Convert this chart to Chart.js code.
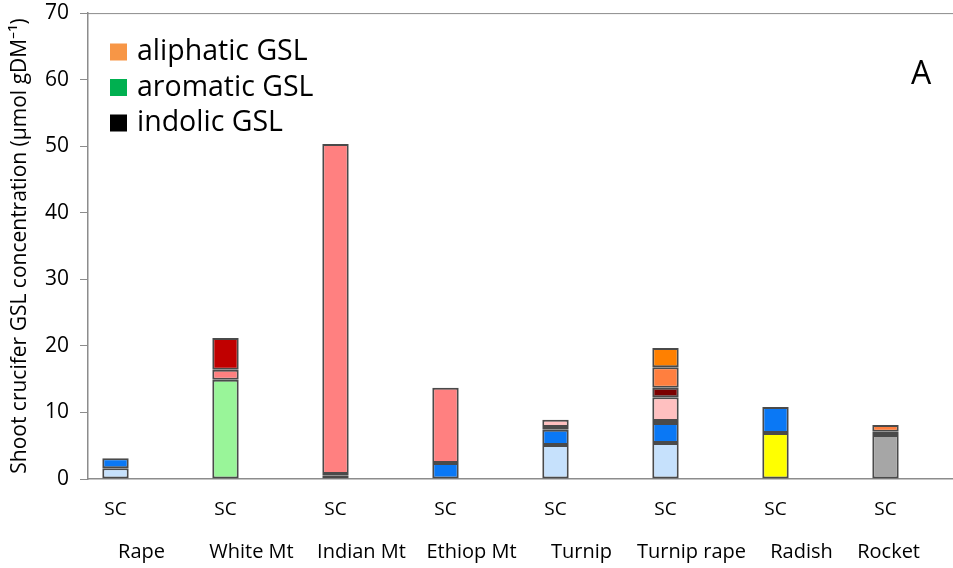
<!DOCTYPE html>
<html lang="en">

<head>
    <meta charset="UTF-8">
    <title>Shoot crucifer GSL</title>
    <script src="https://cdn.jsdelivr.net/npm/chart.js"></script>
    <style>
        html, body { margin: 0; padding: 0; background: #fff; overflow: hidden; }
        #chart { position: absolute; left: 0; top: 0; width: 980px; height: 568px; }
    </style>
</head>

<body>
    <div id="chart"><canvas id="myChart"></canvas></div>
    <script>
        // crops, each measured once under the SC treatment
        const crops = ['Rape', 'White Mt', 'Indian Mt', 'Ethiop Mt', 'Turnip', 'Turnip rape', 'Radish', 'Rocket'];
        const treatment = 'SC';
        const yTicks = [0, 10, 20, 30, 40, 50, 60, 70];

        // stacked segments, bottom to top (µmol gDM-1)
        const green     = [0, 14.9, 0, 0, 0, 0, 0, 0];
        const yellow    = [0, 0, 0, 0, 0, 0, 6.9, 0];
        const grey      = [0, 0, 0, 0, 0, 0, 0, 6.6];
        const lightBlue = [1.6, 0, 0.5, 0, 5.1, 5.4, 0, 0];
        const blue      = [1.5, 0, 0, 2.4, 2.3, 3.0, 3.9, 0];
        const black     = [0, 0, 0.25, 0, 0.4, 0.3, 0, 0];
        const pink      = [0, 1.5, 49.6, 11.3, 0, 0, 0, 0];
        const lightPink = [0, 0, 0, 0, 1.1, 3.6, 0, 0];
        const red       = [0, 4.8, 0, 0, 0, 0, 0, 0];
        const maroon    = [0, 0, 0, 0, 0, 1.4, 0, 0.5];
        const coral     = [0, 0, 0, 0, 0, 3.1, 0, 1.0];
        const orange    = [0, 0, 0, 0, 0, 2.9, 0, 0];

        const legendLabels = ['aliphatic GSL', 'aromatic GSL', 'indolic GSL'];
        const legendColors = ['#f79646', '#00b050', '#000000'];

        // every crop gets an empty slot after it (missing treatment)
        const expand = arr => arr.flatMap(v => [v || null, null]);
        const labels = crops.flatMap(() => [treatment, '']);

        const segments = [
            [green, '#99f599'], [yellow, '#ffff00'], [grey, '#a6a6a6'],
            [lightBlue, '#c6e1fc'], [blue, '#0a78f5'], [black, '#000000'],
            [pink, '#ff8080'], [lightPink, '#ffc0c0'], [red, '#c00000'],
            [maroon, '#7a0000'], [coral, '#ff7f3f'], [orange, '#ff8000']
        ];

        const datasets = segments.map(([values, color]) => ({
            data: expand(values),
            backgroundColor: color,
            borderColor: '#4a4a4a',
            borderWidth: 2,
            borderSkipped: false,
            barPercentage: 1,
            categoryPercentage: 0.48
        }));

        const FONT = 'Open Sans';

        const extras = {
            id: 'extras',
            afterDraw(chart) {
                const ctx = chart.ctx;
                const area = chart.chartArea;
                const x = chart.scales.x;
                ctx.save();
                // top frame line
                ctx.strokeStyle = '#8c8c8c';
                ctx.lineWidth = 1;
                ctx.beginPath();
                ctx.moveTo(area.left, area.top + 0.5);
                ctx.lineTo(area.right, area.top + 0.5);
                ctx.stroke();

                // legend
                ctx.font = '28.5px "' + FONT + '"';
                ctx.textBaseline = 'middle';
                ctx.textAlign = 'left';
                legendLabels.forEach((t, i) => {
                    const cy = 52 + i * 35.5;
                    ctx.fillStyle = legendColors[i];
                    ctx.fillRect(110, cy - 8.5, 17, 17);
                    ctx.fillStyle = '#000';
                    ctx.fillText(t, 137, cy);
                });

                // panel letter
                ctx.font = '32px "' + FONT + '"';
                ctx.fillText('A', 911, 75);

                // crop names under the SC labels
                ctx.font = '20px "' + FONT + '"';
                ctx.textAlign = 'center';
                crops.forEach((name, i) => {
                    const w = ctx.measureText(name).width;
                    let cx = x.getPixelForValue(i * 2) + 26;
                    cx = Math.min(cx, 920 - w / 2);
                    ctx.fillText(name, cx, 552);
                });
                ctx.restore();
            }
        };

        new Chart(document.getElementById('myChart'), {
            type: 'bar',
            data: { labels: labels, datasets: datasets },
            plugins: [extras],
            options: {
                responsive: true,
                maintainAspectRatio: false,
                animation: false,
                devicePixelRatio: 1,
                layout: { padding: { top: 4, right: 12, left: 0, bottom: 0 } },
                plugins: {
                    legend: { display: false },
                    tooltip: { enabled: false }
                },
                scales: {
                    x: {
                        stacked: true,
                        grid: { display: false, drawTicks: false },
                        border: { color: '#8c8c8c', width: 1.5 },
                        ticks: {
                            autoSkip: false,
                            maxRotation: 0,
                            padding: 19,
                            color: '#000',
                            font: { family: FONT, size: 19 }
                        },
                        afterFit: s => { s.height = 89; }
                    },
                    y: {
                        stacked: true,
                        min: 0,
                        max: 70,
                        afterBuildTicks: s => { s.ticks = yTicks.map(v => ({ value: v })); },
                        grid: {
                            color: c => 'rgba(0,0,0,0)',
                            tickColor: '#8c8c8c',
                            tickLength: 8,
                            drawOnChartArea: false
                        },
                        border: { color: '#8c8c8c', width: 1.5 },
                        ticks: {
                            padding: 11,
                            color: '#000',
                            font: { family: FONT, size: 21, lineHeight: 0.2 }
                        },
                        title: {
                            display: true,
                            text: 'Shoot crucifer GSL concentration (µmol gDM⁻¹)',
                            color: '#000',
                            font: { family: FONT, size: 21 },
                            padding: { top: 7, bottom: 0 }
                        },
                        afterFit: s => { s.width = 88; }
                    }
                }
            }
        });
    </script>
</body>

</html>
